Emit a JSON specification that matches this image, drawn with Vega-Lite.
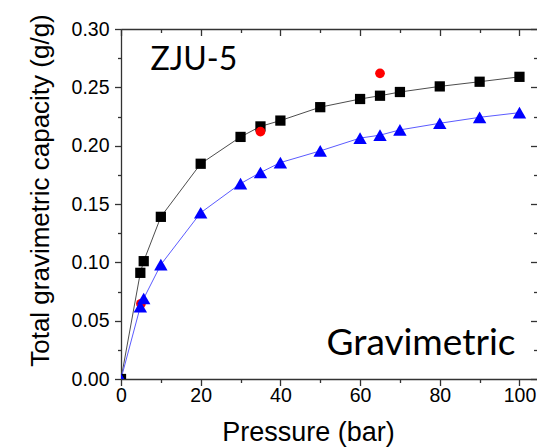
{
  "$schema": "https://vega.github.io/schema/vega-lite/v6.json",
  "width": 416,
  "height": 350,
  "autosize": "none",
  "padding": {"left": 121, "top": 29, "right": 0, "bottom": 69},
  "background": "white",
  "config": {
    "view": {"stroke": null},
    "axis": {
      "grid": false,
      "domainColor": "#333333",
      "domainWidth": 1.3,
      "tickColor": "#333333",
      "tickWidth": 1.3,
      "labelFont": "Liberation Sans",
      "labelColor": "black",
      "labelFontSize": 19.5,
      "titleFont": "Liberation Sans",
      "titleFontWeight": "normal",
      "titleColor": "black",
      "titleFontSize": 26,
      "labelFlush": false,
      "labelOverlap": false
    }
  },
  "datasets": {
    "isotherms": [
      {"series": "ZJU-5 total", "pressure": 0, "capacity": 0},
      {"series": "ZJU-5 total", "pressure": 4.85, "capacity": 0.091},
      {"series": "ZJU-5 total", "pressure": 5.7, "capacity": 0.101},
      {"series": "ZJU-5 total", "pressure": 10, "capacity": 0.139},
      {"series": "ZJU-5 total", "pressure": 20, "capacity": 0.1845},
      {"series": "ZJU-5 total", "pressure": 30, "capacity": 0.2075},
      {"series": "ZJU-5 total", "pressure": 35, "capacity": 0.2165},
      {"series": "ZJU-5 total", "pressure": 40, "capacity": 0.2215},
      {"series": "ZJU-5 total", "pressure": 50, "capacity": 0.233},
      {"series": "ZJU-5 total", "pressure": 60, "capacity": 0.24},
      {"series": "ZJU-5 total", "pressure": 65, "capacity": 0.2428},
      {"series": "ZJU-5 total", "pressure": 70, "capacity": 0.246},
      {"series": "ZJU-5 total", "pressure": 80, "capacity": 0.2508},
      {"series": "ZJU-5 total", "pressure": 90, "capacity": 0.2548},
      {"series": "ZJU-5 total", "pressure": 100, "capacity": 0.259},
      {"series": "ZJU-5 excess", "pressure": 0, "capacity": 0},
      {"series": "ZJU-5 excess", "pressure": 4.85, "capacity": 0.062},
      {"series": "ZJU-5 excess", "pressure": 5.7, "capacity": 0.069},
      {"series": "ZJU-5 excess", "pressure": 10, "capacity": 0.098},
      {"series": "ZJU-5 excess", "pressure": 20, "capacity": 0.1425},
      {"series": "ZJU-5 excess", "pressure": 30, "capacity": 0.1675},
      {"series": "ZJU-5 excess", "pressure": 35, "capacity": 0.177},
      {"series": "ZJU-5 excess", "pressure": 40, "capacity": 0.1855},
      {"series": "ZJU-5 excess", "pressure": 50, "capacity": 0.1955},
      {"series": "ZJU-5 excess", "pressure": 60, "capacity": 0.2065},
      {"series": "ZJU-5 excess", "pressure": 65, "capacity": 0.209},
      {"series": "ZJU-5 excess", "pressure": 70, "capacity": 0.2135},
      {"series": "ZJU-5 excess", "pressure": 80, "capacity": 0.2192},
      {"series": "ZJU-5 excess", "pressure": 90, "capacity": 0.2243},
      {"series": "ZJU-5 excess", "pressure": 100, "capacity": 0.2283},
      {"series": "reference", "pressure": 5, "capacity": 0.0645},
      {"series": "reference", "pressure": 35, "capacity": 0.212},
      {"series": "reference", "pressure": 65, "capacity": 0.262}
    ],
    "notes": [
      {"label": "ZJU-5", "pressure": 7.4, "capacity": 0.2645},
      {"label": "Gravimetric", "pressure": 99, "capacity": 0.0208}
    ]
  },
  "layer": [
    {
      "data": {"name": "isotherms"},
      "transform": [{"filter": "datum.series === 'ZJU-5 total'"}],
      "mark": {"type": "line", "color": "#4d4d4d", "strokeWidth": 1, "clip": true},
      "encoding": {
        "x": {"field": "pressure", "type": "quantitative", "scale": {"domain": [0, 104.4], "nice": false},
          "axis": {"orient": "bottom", "values": [0, 20, 40, 60, 80, 100], "tickSize": 6.5, "labelPadding": 1,
            "title": "Pressure (bar)", "titleFontSize": 27, "titleX": 187, "titleY": 61, "titleBaseline": "alphabetic"}},
        "y": {"field": "capacity", "type": "quantitative", "scale": {"domain": [0, 0.3], "nice": false},
          "axis": {"orient": "left", "values": [0, 0.05, 0.1, 0.15, 0.2, 0.25, 0.3], "format": ".2f", "tickSize": 6.5, "labelPadding": 5.5,
            "title": "Total gravimetric capacity (g/g)", "titleX": -73, "titleY": 161, "titleBaseline": "alphabetic"}}
      }
    },
    {
      "data": {"name": "isotherms"},
      "transform": [{"filter": "datum.series === 'ZJU-5 excess'"}],
      "mark": {"type": "line", "color": "#5b5bff", "strokeWidth": 1, "clip": true},
      "encoding": {
        "x": {"field": "pressure", "type": "quantitative", "scale": {"domain": [0, 104.4], "nice": false},
          "axis": {"orient": "bottom", "values": [10, 30, 50, 70, 90], "tickSize": 3.5, "labels": false, "domain": false, "title": null}},
        "y": {"field": "capacity", "type": "quantitative", "scale": {"domain": [0, 0.3], "nice": false},
          "axis": {"orient": "left", "values": [0.025, 0.075, 0.125, 0.175, 0.225, 0.275], "tickSize": 3.5, "labels": false, "domain": false, "title": null}}
      }
    },
    {
      "data": {"name": "isotherms"},
      "transform": [{"filter": "datum.series === 'ZJU-5 total'"}],
      "mark": {"type": "point", "shape": "square", "filled": true, "color": "black", "opacity": 1, "size": 105, "clip": true},
      "encoding": {
        "x": {"field": "pressure", "type": "quantitative", "scale": {"domain": [0, 104.4], "nice": false},
          "axis": {"orient": "top", "values": [0, 20, 40, 60, 80, 100], "tickSize": -6.5, "labels": false, "title": null}},
        "y": {"field": "capacity", "type": "quantitative", "scale": {"domain": [0, 0.3], "nice": false},
          "axis": {"orient": "right", "values": [0, 0.05, 0.1, 0.15, 0.2, 0.25, 0.3], "tickSize": -6.5, "labels": false, "domain": false, "title": null}}
      }
    },
    {
      "data": {"name": "isotherms"},
      "transform": [{"filter": "datum.series === 'reference'"}],
      "mark": {"type": "point", "shape": "circle", "filled": true, "color": "#ff0000", "opacity": 1, "size": 95, "clip": true},
      "encoding": {
        "x": {"field": "pressure", "type": "quantitative", "scale": {"domain": [0, 104.4], "nice": false},
          "axis": {"orient": "top", "values": [10, 30, 50, 70, 90], "tickSize": -3.5, "labels": false, "domain": false, "title": null}},
        "y": {"field": "capacity", "type": "quantitative", "scale": {"domain": [0, 0.3], "nice": false},
          "axis": {"orient": "right", "values": [0.025, 0.075, 0.125, 0.175, 0.225, 0.275], "tickSize": -3.5, "labels": false, "domain": false, "title": null}}
      }
    },
    {
      "data": {"name": "isotherms"},
      "transform": [{"filter": "datum.series === 'ZJU-5 excess'"}],
      "mark": {"type": "point", "shape": "triangle-up", "filled": true, "color": "#0000ff", "opacity": 1, "size": 180, "clip": true},
      "encoding": {
        "x": {"field": "pressure", "type": "quantitative", "scale": {"domain": [0, 104.4], "nice": false}, "axis": null},
        "y": {"field": "capacity", "type": "quantitative", "scale": {"domain": [0, 0.3], "nice": false}, "axis": null}
      }
    },
    {
      "data": {"name": "notes"},
      "transform": [{"filter": "datum.label === 'ZJU-5'"}],
      "mark": {"type": "text", "font": "Lato", "fontSize": 32, "align": "left", "baseline": "alphabetic", "color": "black"},
      "encoding": {
        "x": {"field": "pressure", "type": "quantitative", "scale": {"domain": [0, 104.4], "nice": false}, "axis": null},
        "y": {"field": "capacity", "type": "quantitative", "scale": {"domain": [0, 0.3], "nice": false}, "axis": null},
        "text": {"field": "label"}
      }
    },
    {
      "data": {"name": "notes"},
      "transform": [{"filter": "datum.label === 'Gravimetric'"}],
      "mark": {"type": "text", "font": "Lato", "fontSize": 37, "align": "right", "baseline": "alphabetic", "color": "black"},
      "encoding": {
        "x": {"field": "pressure", "type": "quantitative", "scale": {"domain": [0, 104.4], "nice": false}, "axis": null},
        "y": {"field": "capacity", "type": "quantitative", "scale": {"domain": [0, 0.3], "nice": false}, "axis": null},
        "text": {"field": "label"}
      }
    }
  ],
  "resolve": {"axis": {"x": "independent", "y": "independent"}}
}
